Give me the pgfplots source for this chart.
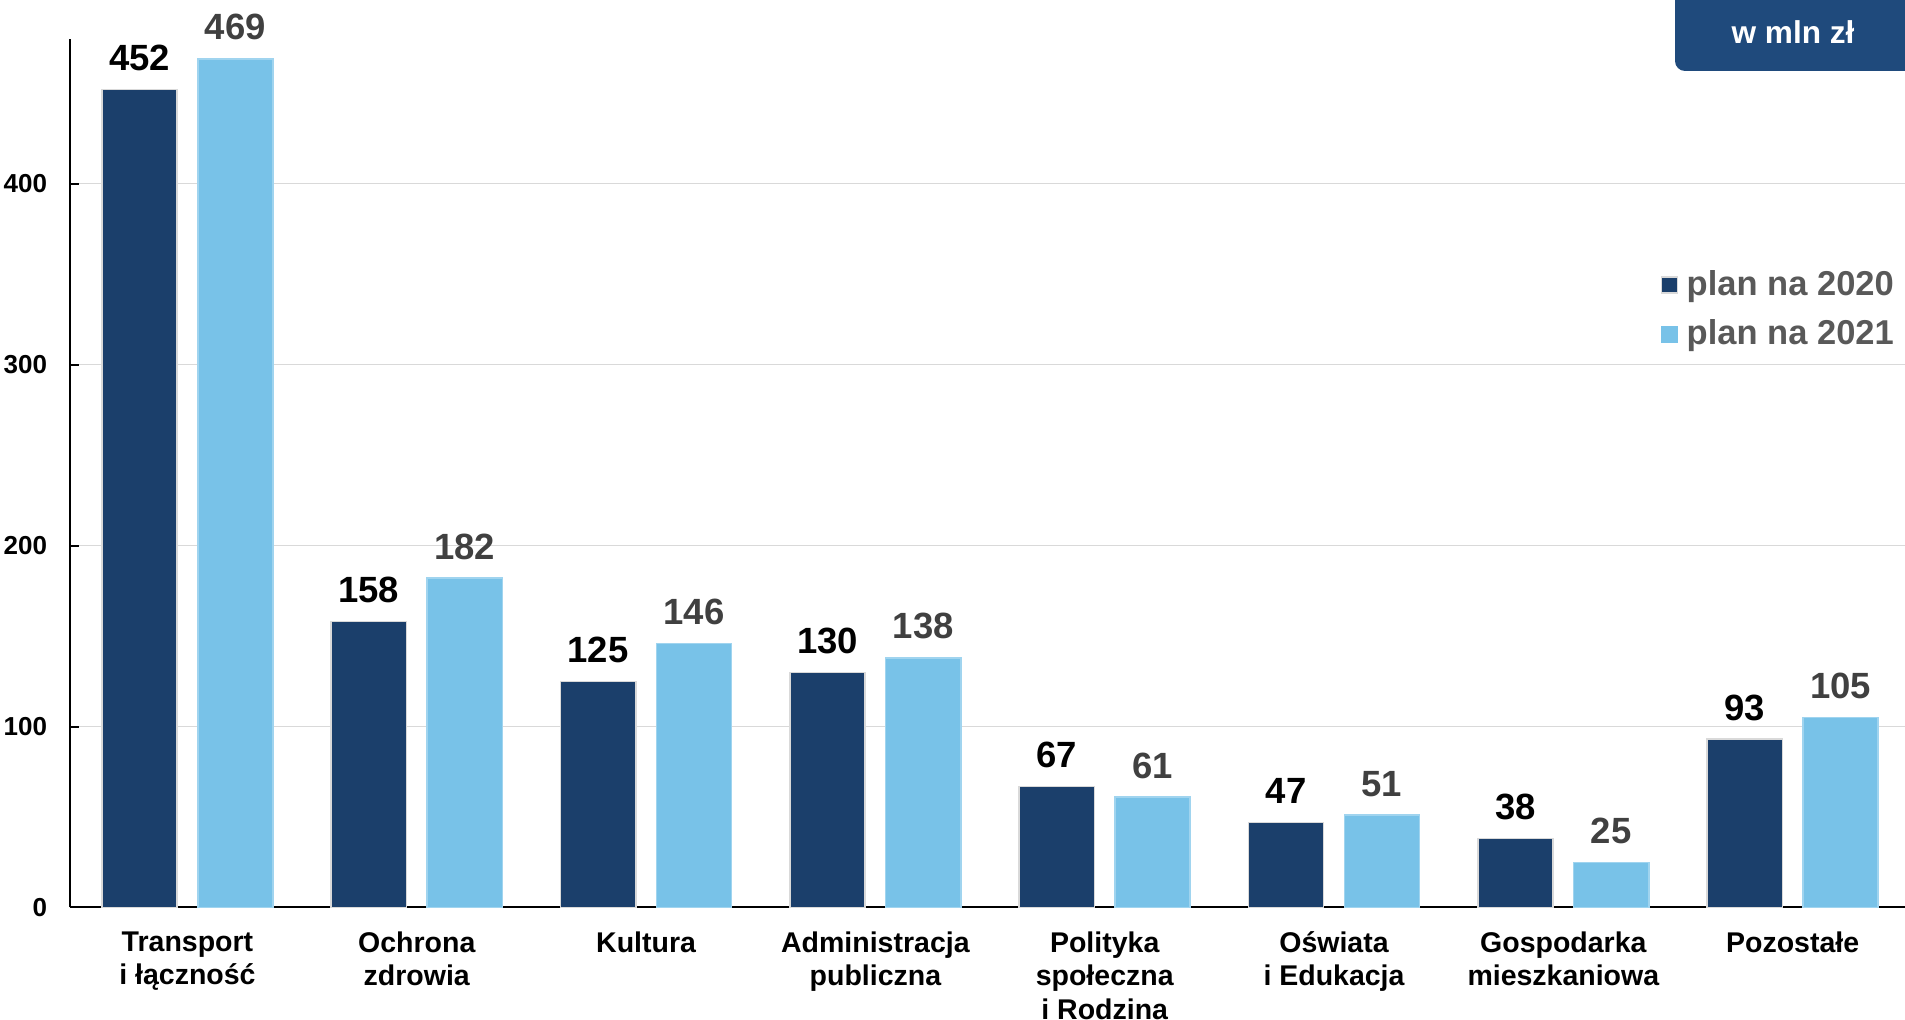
\documentclass[border=0pt]{standalone}
\usepackage{pgfplots}
\pgfplotsset{compat=1.18}
\usepackage{fontspec}
\setmainfont{Liberation Sans}
\definecolor{dk}{HTML}{1B3F6B}
\definecolor{lt}{HTML}{78C2E8}
\definecolor{boxc}{HTML}{1F4A7C}
\definecolor{gridc}{HTML}{D9D9D9}
\definecolor{lbltwo}{HTML}{404040}
\definecolor{legc}{HTML}{595959}
\begin{document}
\begin{tikzpicture}
\useasboundingbox (0,0) rectangle (952.5pt,510pt);
\begin{axis}[
  at={(35.25pt,56.25pt)}, anchor=south west,
  scale only axis, width=917.25pt, height=434.25pt,
  ymin=0, ymax=480, xmin=-0.51, xmax=7.49,
  ybar, bar width=0.328,
  axis x line*=bottom, axis y line*=left,
  axis line style={black, line width=1pt},
  xtick={0,1,2,3,4,5,6,7},
  xticklabels={{Transport\\i łączność},{Ochrona\\zdrowia},{Kultura},{Administracja\\publiczna},{Polityka\\społeczna\\i Rodzina},{Oświata\\i Edukacja},{Gospodarka\\mieszkaniowa},{Pozostałe}},
  xticklabel style={font=\bfseries\fontsize{14.25}{16.8}\selectfont, align=center, anchor=north, inner sep=0pt, yshift=-11.75pt},
  ytick={0,100,200,300,400},
  yticklabel style={font=\bfseries\fontsize{13}{15}\selectfont, anchor=east, inner sep=0pt, xshift=-11.5pt},
  /pgf/number format/assume math mode=true,
  ymajorgrids, grid style={gridc, line width=0.6pt},
  xtick style={draw=none},
  ytick style={black, line width=1pt},
  tick align=inside, major tick length=4pt,
  legend style={draw=none, fill=none, at={(0.9963,0.738)}, anchor=north east,
    font=\bfseries\fontsize{17.25}{20}\selectfont, text=legc, row sep=6.5pt, inner sep=0pt,
    /tikz/every odd column/.style={column sep=2.5pt}},
  legend cell align=left,
]
\addplot[forget plot, fill=dk, draw=gridc, line width=0.75pt, bar shift=-0.209,
  nodes near coords, nodes near coords style={font=\bfseries\fontsize{18.25}{20}\selectfont, text=black, anchor=base, inner sep=0pt, yshift=9.5pt}]
  coordinates {(0,452) (1,158) (2,125) (3,130) (4,67) (5,47) (6,38) (7,93)};
\addplot[forget plot, fill=lt, draw=lt!70!white, line width=0.75pt, bar shift=0.209,
  nodes near coords, nodes near coords style={font=\bfseries\fontsize{18.25}{20}\selectfont, text=lbltwo, anchor=base, inner sep=0pt, yshift=9.5pt}]
  coordinates {(0,469) (1,182) (2,146) (3,138) (4,61) (5,51) (6,25) (7,105)};
\addlegendimage{legend image code/.code={\fill[dk, draw=gridc, line width=0.6pt] (0pt,-4pt) rectangle (8pt,4pt);}}
\addlegendentry{plan na 2020}
\addlegendimage{legend image code/.code={\fill[lt] (0pt,-4pt) rectangle (8pt,4pt);}}
\addlegendentry{plan na 2021}
\end{axis}
\fill[boxc, rounded corners=5pt] (837.5pt,474.5pt) rectangle (975pt,525pt);
\node[text=white, font=\bfseries\fontsize{15.8}{18}\selectfont] at (896.5pt,494pt) {w mln zł};
\end{tikzpicture}
\end{document}
